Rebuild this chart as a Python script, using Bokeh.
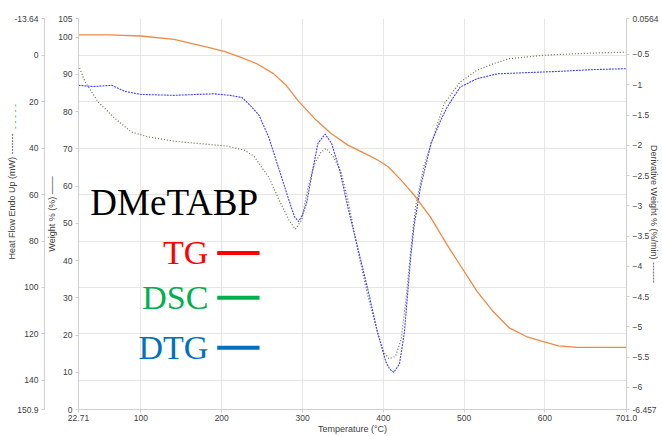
from bokeh.plotting import figure
from bokeh.models import Range1d, LinearAxis, FixedTicker, Label
from bokeh.embed import file_html
from bokeh.resources import INLINE

# ---------------- data ----------------
temp_tg = [22.71, 60, 100, 141, 182, 203, 223, 243, 264, 280, 295, 315, 335, 356,
           377, 393, 406, 422, 438, 458, 479, 495, 516, 536, 556, 577, 597, 617,
           640, 701.0]
weight_tg = [100.6, 100.6, 100.3, 99.4, 97.3, 96.2, 94.6, 92.9, 90.2, 87.0, 82.8,
             78.1, 74.2, 71.0, 68.8, 67.0, 65.2, 61.6, 57.6, 51.8, 44.2, 38.8,
             31.7, 26.3, 21.9, 19.6, 18.3, 17.1, 16.7, 16.7]

temp_dsc = [22.71, 31, 47, 68, 88, 109, 141, 182, 207, 228, 240, 250, 258, 270,
            283, 291, 299, 307, 315, 323, 329, 338, 348, 356, 369, 381, 393, 401,
            407, 415, 422, 428, 434, 440, 450, 462, 475, 495, 516, 536, 556, 577,
            597, 617, 659, 701.0]
heat_dsc = [4.3, 11.5, 20.1, 27.2, 33.0, 35.1, 37.0, 38.3, 39.1, 40.8, 43.5, 48.5,
            52.3, 61.6, 70.9, 74.9, 70.9, 56.6, 46.6, 41.6, 40.1, 43.5, 50.5,
            62.0, 85.1, 103.9, 119.5, 128.1, 130.7, 129.7, 122.5, 105.3, 83.8,
            65.2, 48.0, 35.1, 21.1, 11.5, 6.4, 3.6, 1.4, 0.7, 0.0, -0.4, -1.0, -1.4]

temp_dtg = [22.71, 40, 64, 80, 100, 141, 170, 190, 210, 225, 233, 246, 258, 270,
            283, 290, 295, 300, 305, 311, 319, 328, 336, 346, 356, 369, 381, 393,
            403, 408, 413, 420, 426, 434, 438, 446, 459, 471, 479, 495, 516, 541,
            577, 617, 659, 701.0]
deriv_dtg = [-1.01, -1.03, -1.01, -1.11, -1.16, -1.175, -1.16, -1.15, -1.175,
             -1.21, -1.31, -1.50, -1.86, -2.36, -2.90, -3.18, -3.26, -3.15, -2.96,
             -2.52, -1.97, -1.815, -1.97, -2.41, -3.015, -3.73, -4.39, -5.10,
             -5.57, -5.70, -5.75, -5.61, -5.10, -3.84, -3.34, -2.69, -1.97, -1.59,
             -1.37, -1.04, -0.90, -0.82, -0.80, -0.78, -0.75, -0.735]

x_ticks = [22.71, 100, 200, 300, 400, 500, 600, 701.0]
x_labels = {22.71: "22.71", 701.0: "701.0"}
weight_ticks = [0, 10, 20, 30, 40, 50, 60, 70, 80, 90, 100, 105]
heat_ticks = [-15.9, 0, 20, 40, 60, 80, 100, 120, 140, 152.6]
heat_labels = {-15.9: "-13.64", 152.6: "150.9"}
deriv_ticks = [0.094, -0.5, -1.0, -1.5, -2.0, -2.5, -3.0, -3.5, -4.0, -4.5, -5.0,
               -5.5, -6.0, -6.364]
deriv_labels = {0.094: "0.0564", -6.364: "-6.457"}

NB = "\u00a0"

# ---------------- figure ----------------
p = figure(width=662, height=436,
           x_range=Range1d(22.71, 701.0), y_range=Range1d(0, 105),
           output_backend="svg", toolbar_location=None,
           min_border_left=78, min_border_right=31,
           min_border_top=18, min_border_bottom=26)
p.extra_y_ranges = {"hf": Range1d(152.6, -15.9), "dtg": Range1d(-6.364, 0.094)}
p.outline_line_color = None
p.background_fill_color = "white"

LABEL_FONT = "Liberation Sans"
AX_COL = "#d0d0d0"
TXT_COL = "#404040"


def style_axis(ax):
    ax.axis_line_color = AX_COL
    ax.major_tick_line_color = AX_COL
    ax.major_tick_out = 3
    ax.major_tick_in = 0
    ax.minor_tick_line_color = None
    ax.major_label_text_font = LABEL_FONT
    ax.major_label_text_font_size = "8.5px"
    ax.major_label_text_color = TXT_COL
    ax.major_label_standoff = 3
    ax.axis_label_text_font = LABEL_FONT
    ax.axis_label_text_font_size = "9px"
    ax.axis_label_text_font_style = "normal"
    ax.axis_label_text_color = TXT_COL


# x axis
xa = p.xaxis[0]
xa.ticker = FixedTicker(ticks=x_ticks)
xa.major_label_overrides = x_labels
xa.axis_label = "Temperature (°C)"
style_axis(xa)
xa.major_label_standoff = 2
xa.axis_label_standoff = 0

# weight axis (inner left)
wa = p.yaxis[0]
wa.ticker = FixedTicker(ticks=weight_ticks)
wa.axis_label = "Weight % (%) ——"
style_axis(wa)
wa.axis_label_standoff = -2

# heat flow axis (outer left)
ha = LinearAxis(y_range_name="hf", ticker=FixedTicker(ticks=heat_ticks),
                major_label_overrides=heat_labels,
                axis_label=NB * 14 + "Heat Flow Endo Up (mW) -------")
style_axis(ha)
ha.axis_label_standoff = -6
p.add_layout(ha, "left")

# green dash marker of the heat-flow title (label-only axis)
ga = LinearAxis(y_range_name="hf", ticker=FixedTicker(ticks=[]),
                axis_label=NB * 78 + "- - - - -")
style_axis(ga)
ga.axis_line_color = None
ga.major_tick_out = 0
ga.major_label_standoff = 0
ga.axis_label_text_color = "#00b050"
ga.axis_label_standoff = -15
p.add_layout(ga, "left")

# derivative axis (right)
da = LinearAxis(y_range_name="dtg", ticker=FixedTicker(ticks=deriv_ticks),
                major_label_overrides=deriv_labels,
                axis_label="Derivative Weight % (%/min) -------")
style_axis(da)
da.axis_label_standoff = -12
p.add_layout(da, "right")

# grids
p.xgrid.ticker = FixedTicker(ticks=x_ticks)
p.xgrid.grid_line_color = "#e6e6e6"
p.ygrid.y_range_name = "hf"
p.ygrid.ticker = FixedTicker(ticks=heat_ticks)
p.ygrid.grid_line_color = "#e6e6e6"

# ---------------- curves ----------------
p.line(temp_dsc, heat_dsc, y_range_name="hf", line_color="#6b6b48",
       line_width=1.2, line_dash="1 2")
p.line(temp_dtg, deriv_dtg, y_range_name="dtg", line_color="#4040ff",
       line_width=1.1, line_dash="2 1")
p.line(temp_tg, weight_tg, line_color="#ef8a45", line_width=1.3)

# ---------------- annotations ----------------
p.add_layout(Label(x=37.4, y=55.7, text="DMeTABP", text_font="Liberation Serif",
                   text_font_size="37px", text_color="black",
                   text_align="left", text_baseline="alphabetic"))

legend_items = [("TG", "#ff0000", 42.05), ("DSC", "#00b050", 30.0), ("DTG", "#0070c0", 16.6)]
for name, col, yv in legend_items:
    p.add_layout(Label(x=183.4, y=yv, text=name, text_font="Liberation Serif",
                       text_font_size="34px", text_color=col,
                       text_align="right", text_baseline="alphabetic"))
    p.segment(x0=[194.4], y0=[yv], x1=[246.8], y1=[yv], line_color=col, line_width=4)

open("out.html", "w").write(file_html(p, INLINE))
